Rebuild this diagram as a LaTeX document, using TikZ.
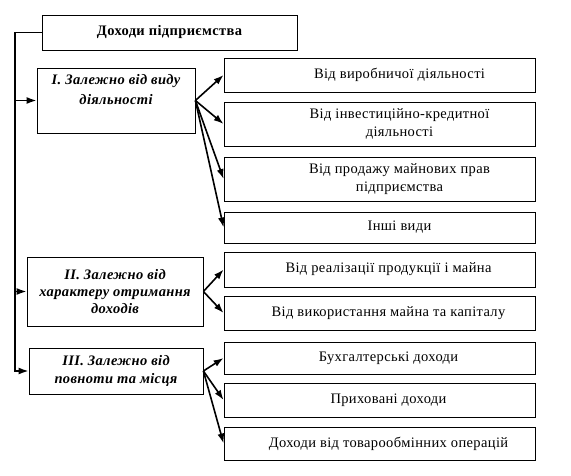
\documentclass[tikz,border=0pt]{standalone}
\usepackage{fontspec}
\setmainfont[LetterSpace=2.5]{Liberation Serif}
\usepackage{tikz}
\usetikzlibrary{positioning, arrows.meta}

\tikzset{
  box/.style={draw, line width=0.8pt, align=center, inner sep=3pt},
  titlebox/.style={box, font=\fontsize{14.5}{17.4}\selectfont\bfseries, minimum width=255pt, minimum height=35pt},
  groupbox/.style={box, font=\fontsize{14.5}{17.4}\selectfont\bfseries\itshape},
  itembox/.style={box, font=\fontsize{14.5}{17.4}\selectfont, minimum width=311pt},
  conn/.style={-{Latex[length=10pt,width=7pt]}, line width=1.6pt}
}

\begin{document}
\begin{tikzpicture}[x=1pt, y=-1pt]
\useasboundingbox (0,0) rectangle (571,475);

% title
\node[titlebox] (top) at (169.5,32.5) {Доходи підприємства};

% groups
\node[groupbox, minimum width=158pt, minimum height=65pt, text depth=22pt] (I) at (116,100.5) {I. Залежно від виду\\[3pt] діяльності};
\node[groupbox, minimum width=176pt, minimum height=69pt] (II) at (115,291.5) {II. Залежно від\\ характеру отримання\\ доходів};
\node[groupbox, minimum width=174pt, minimum height=46pt] (III) at (116,371) {III. Залежно від\\ повноти та місця};

% items
\node[itembox, minimum height=34pt] (b1) at (379.5,75) {\hspace*{40pt}Від виробничої діяльності};
\node[itembox, minimum height=44pt] (b2) at (379.5,124) {\hspace*{40pt}Від інвестиційно-кредитної\\ \hspace*{40pt}діяльності};
\node[itembox, minimum height=44pt] (b3) at (379.5,179) {\hspace*{40pt}Від продажу майнових прав\\ \hspace*{40pt}підприємства};
\node[itembox, minimum height=31pt] (b4) at (379.5,227.5) {\hspace*{40pt}Інші види};
\node[itembox, minimum height=35pt] (b5) at (379.5,269.5) {\hspace*{18pt}Від реалізації продукції і майна};
\node[itembox, minimum height=34pt] (b6) at (379.5,313) {\hspace*{18pt}Від використання майна та капіталу};
\node[itembox, minimum height=32pt] (b7) at (379.5,358) {\hspace*{18pt}Бухгалтерські доходи};
\node[itembox, minimum height=34pt] (b8) at (379.5,400) {\hspace*{18pt}Приховані доходи};
\node[itembox, minimum height=33pt] (b9) at (379.5,443.5) {\hspace*{18pt}Доходи від товарообмінних операцій};

% trunk on the left
\coordinate (bend) at (15,32.5);
\draw[conn] (top.west) -- (bend) |- (III.west);
\draw[conn] (bend |- I.west) -- (I.west);
\draw[conn] (bend |- II.west) -- (II.west);

% fans
\foreach \b in {b1,b2,b3,b4} \draw[conn] (I.east) -- (\b.west);
\foreach \b in {b5,b6} \draw[conn] (II.east) -- (\b.west);
\foreach \b in {b7,b8,b9} \draw[conn] (III.east) -- (\b.west);
\end{tikzpicture}
\end{document}
